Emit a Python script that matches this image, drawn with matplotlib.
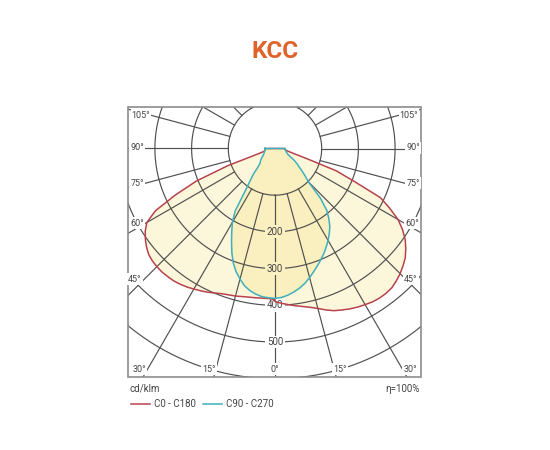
import numpy as np
import matplotlib
matplotlib.use('Agg')
import matplotlib.pyplot as plt
from matplotlib.patches import Rectangle
from matplotlib.lines import Line2D

plt.rcParams['font.family'] = ['Roboto', 'DejaVu Sans']

# angle from nadir (deg) and intensity (cd/klm)
angles = np.arange(0, 92.5, 2.5)
c0 = [390, 395, 400, 405, 410, 416, 424, 434, 443, 449, 455, 460, 464, 468, 470, 470,
      468, 462, 455, 446, 436, 422, 406, 385, 360, 325, 290, 205, 150, 60, 25, 12,
      5, 2, 0, 0, 0]
c180 = [385, 382, 382, 383, 384, 386, 389, 391, 394, 399, 405, 410, 415, 420, 424, 427,
        428, 429, 428, 426, 422, 414, 404, 392, 376, 340, 272, 205, 110, 20, 5, 2,
        0, 0, 0, 0, 0]
c90 = [381, 379, 374, 367, 359, 349, 337, 324, 312, 300, 288, 275, 262, 248, 233, 214,
       192, 155, 102, 85, 70, 56, 47, 37, 28, 18, 12, 9, 7, 5, 4, 3,
       2, 1, 1, 0, 0]
c270 = [381, 380, 378, 373, 366, 356, 341, 325, 305, 280, 253, 228, 205, 175, 115, 85,
        65, 42, 31, 27, 24, 20, 17, 13, 10, 8, 6, 5, 4, 3, 2, 1,
        1, 0, 0, 0, 0]

rings = [100, 200, 300, 400, 500, 600]
ring_labels = [200, 300, 400, 500]
spokes = np.arange(0, 360, 15)

# angle labels on the frame (text, x px, y px)
frame_labels = [('105°', 141, 115), ('90°', 137, 148), ('75°', 137, 183), ('60°', 137, 223),
                ('45°', 135, 279), ('30°', 139, 369), ('15°', 209, 369), ('0°', 275, 369),
                ('15°', 340, 369), ('30°', 410, 369), ('45°', 411, 279), ('60°', 412, 223),
                ('75°', 413, 183), ('90°', 413, 148), ('105°', 409, 115)]

W, H = 550, 450
cx, cy = 275, 148.5
R = 303.6

red = '#b8424d'
cyan = '#3fb0bd'
grid_col = '#505050'
fill_col = '#f5dc6e'

fig = plt.figure(figsize=(5.5, 4.5), dpi=100)
fig.patch.set_facecolor('white')

ax = fig.add_axes([(cx - R) / W, (H - cy - R) / H, 2 * R / W, 2 * R / H], projection='polar')
ax.set_theta_zero_location('S')
ax.set_rlim(0, 800)
ax.set_rorigin(-27.25)
ax.set_xticks([])
ax.set_yticks([])
ax.grid(False)
for s in ax.spines.values():
    s.set_linewidth(0)
    s.set_edgecolor('none')
ax.patch.set_visible(False)

clip = Rectangle((128 / W, 1 - 377 / H), 293 / W, 270 / H, transform=fig.transFigure)

th = np.radians(angles)


def loop(left, right):
    t = np.concatenate([-th[::-1], th])
    r = np.concatenate([np.array(left)[::-1], np.array(right)])
    return t, r


artists = []
for left, right in [(c180, c0), (c270, c90)]:
    t, r = loop(left, right)
    artists += ax.fill(t, r, color=fill_col, alpha=0.25, lw=0, zorder=1)

# grid
tt = np.linspace(0, 2 * np.pi, 721)
for rr in rings:
    artists += ax.plot(tt, np.full(tt.size, rr), color=grid_col, lw=0.85, zorder=2)
for a in spokes:
    artists += ax.plot([np.radians(a)] * 2, [100, 800], color=grid_col, lw=0.85, zorder=2)

for (left, right), col in [((c180, c0), red), ((c270, c90), cyan)]:
    t, r = loop(left, right)
    artists += ax.plot(np.append(t, t[0]), np.append(r, r[0]), color=col, lw=1.1, zorder=4)

for a in artists:
    a.set_clip_path(clip)

for v in ring_labels:
    bg = '#fbf0c1' if v < 400 else 'white'
    ax.text(0, v, str(v), ha='center', va='center', fontsize=7, color='#444444', zorder=3,
            bbox=dict(boxstyle='square,pad=0.15', fc=bg, ec='none'))

for txt, x, y in frame_labels:
    fig.text(x / W, 1 - y / H, txt, ha='center', va='center', fontsize=6.5, color='#444444',
             zorder=3, bbox=dict(boxstyle='square,pad=0.12', fc='white', ec='none'))

fig.add_artist(Rectangle((128 / W, 1 - 377 / H), 293 / W, 270 / H, transform=fig.transFigure,
                         fill=False, ec='#8c8c8c', lw=1.2, zorder=2))

fig.text(0.5, 1 - 52 / H, 'KCC', ha='center', va='center', fontsize=17.5, fontweight='bold',
         color='#e0632b')

fig.text(130 / W, 1 - 389 / H, 'cd/klm', ha='left', va='center', fontsize=7, color='#444444')
fig.text(420 / W, 1 - 389 / H, 'η=100%', ha='right', va='center', fontsize=7, color='#444444')

fig.add_artist(Line2D([131 / W, 150 / W], [1 - 404 / H] * 2, transform=fig.transFigure,
                      color=red, lw=1.1))
fig.text(154 / W, 1 - 404 / H, 'C0 - C180', ha='left', va='center', fontsize=7, color='#444444')
fig.add_artist(Line2D([203 / W, 222 / W], [1 - 404 / H] * 2, transform=fig.transFigure,
                      color=cyan, lw=1.1))
fig.text(226 / W, 1 - 404 / H, 'C90 - C270', ha='left', va='center', fontsize=7, color='#444444')

fig.savefig('out.png', dpi=100)
